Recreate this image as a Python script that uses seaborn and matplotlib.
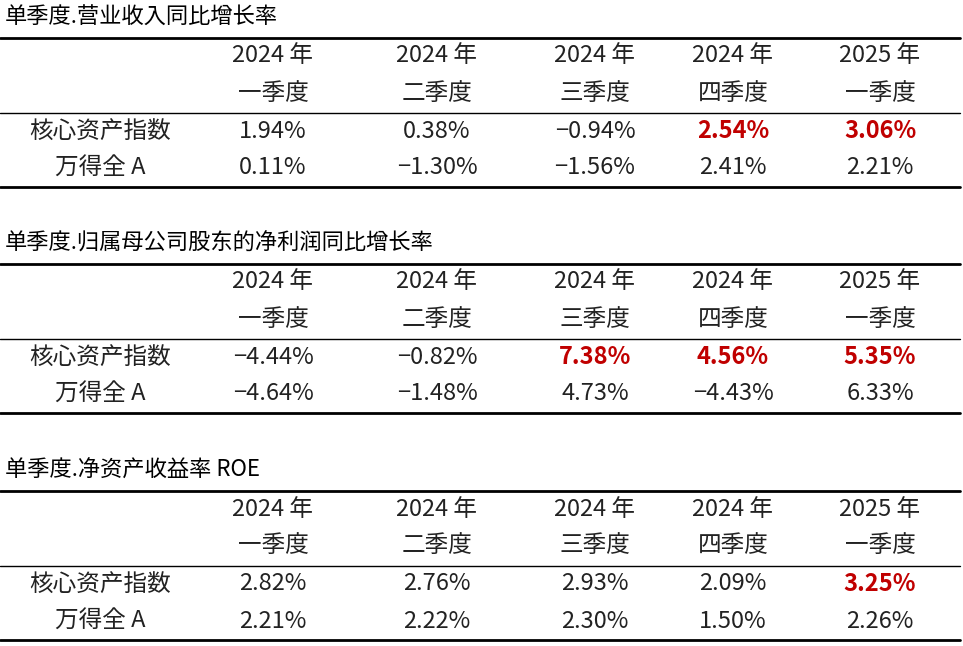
import matplotlib
matplotlib.use("Agg")
import matplotlib.pyplot as plt
import seaborn as sns

sns.set_theme(style="white")
plt.rcParams["font.family"] = ["Noto Sans CJK SC", "Noto Sans CJK JP", "Noto Sans CJK TC",
                               "Noto Sans CJK KR", "DejaVu Sans"]

titles = ["单季度.营业收入同比增长率", "单季度.归属母公司股东的净利润同比增长率", "单季度.净资产收益率 ROE"]
years = ["2024 年", "2024 年", "2024 年", "2024 年", "2025 年"]
quarters = ["一季度", "二季度", "三季度", "四季度", "一季度"]
row_labels = ["核心资产指数", "万得全 A"]
core_vals = [
    ["1.94%", "0.38%", "−0.94%", "2.54%", "3.06%"],
    ["−4.44%", "−0.82%", "7.38%", "4.56%", "5.35%"],
    ["2.82%", "2.76%", "2.93%", "2.09%", "3.25%"],
]
wind_vals = [
    ["0.11%", "−1.30%", "−1.56%", "2.41%", "2.21%"],
    ["−4.64%", "−1.48%", "4.73%", "−4.43%", "6.33%"],
    ["2.21%", "2.22%", "2.30%", "1.50%", "2.26%"],
]
highlight = [[3, 4], [2, 3, 4], [4]]

fig = plt.figure(figsize=(9.63, 6.46), dpi=100)
ax = fig.add_axes([0, 0, 1, 1])
ax.set_xlim(0, 963)
ax.set_ylim(646, 0)
ax.axis("off")

col_x = [273, 437, 595, 733, 880]
label_x = 100
tops = [0, 226, 453]
fs = 17
for s in range(3):
    t = tops[s]
    ax.text(5, t + 17, titles[s], fontsize=16, va="center", ha="left", color="black")
    ax.plot([0, 960], [t + 38, t + 38], color="black", lw=2)
    for i in range(5):
        ax.text(col_x[i], t + 56, years[i], fontsize=fs, ha="center", va="center", color="#222")
        ax.text(col_x[i], t + 93, quarters[i], fontsize=fs, ha="center", va="center", color="#222")
    ax.plot([0, 960], [t + 113, t + 113], color="black", lw=1)
    ax.text(label_x, t + 131, row_labels[0], fontsize=fs, ha="center", va="center", color="#222")
    ax.text(label_x, t + 168, row_labels[1], fontsize=fs, ha="center", va="center", color="#222")
    for i in range(5):
        hl = i in highlight[s]
        ax.text(col_x[i], t + 131, core_vals[s][i], fontsize=fs, ha="center", va="center",
                color="#C00000" if hl else "#222", fontweight="bold" if hl else "normal")
        ax.text(col_x[i], t + 168, wind_vals[s][i], fontsize=fs, ha="center", va="center", color="#222")
    ax.plot([0, 960], [t + 187, t + 187], color="black", lw=2)

fig.savefig("out.png", dpi=100, facecolor="white")
